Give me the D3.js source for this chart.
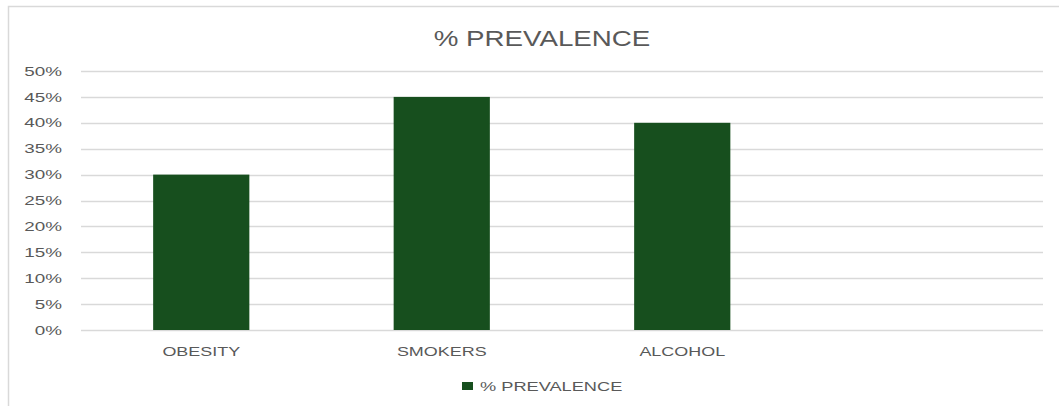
<!DOCTYPE html>
<html>
<head>
<meta charset="utf-8">
<script src="https://cdn.jsdelivr.net/npm/d3@7"></script>
<style>
  html, body { margin: 0; padding: 0; background: #fff; }
  svg { display: block; font-family: "Liberation Sans", Arial, sans-serif; }
</style>
</head>
<body>
<svg id="chart" width="1059" height="406"></svg>
<script>
// Prevalence by risk factor (last slot is an empty category)
const categories = ["OBESITY", "SMOKERS", "ALCOHOL", ""];
const prevalence = [0.30, 0.45, 0.40, null];
const yTicks = [0, 0.05, 0.10, 0.15, 0.20, 0.25, 0.30, 0.35, 0.40, 0.45, 0.50];
const seriesName = "% PREVALENCE";
const chartTitle = "% PREVALENCE";

const W = 1059, H = 406;
const margin = { left: 81, right: 16, top: 71, bottom: 76 };
const barColor = "#174f1e";
const textColor = "#595959";
const gridColor = "#d9d9d9";

const svg = d3.select("#chart");

// widen glyphs horizontally by a factor, keeping the anchor point
function stretch(sel, factor) {
  sel.each(function () {
    const w = this.getComputedTextLength();
    if (w > 0) {
      d3.select(this)
        .attr("textLength", w * factor)
        .attr("lengthAdjust", "spacingAndGlyphs");
    }
  });
}

// chart frame
svg.append("rect")
  .attr("x", 8.5).attr("y", 6.5)
  .attr("width", W + 10).attr("height", H + 10)
  .attr("fill", "#fff").attr("stroke", gridColor).attr("stroke-width", 1.5);

const x = d3.scaleBand()
  .domain(categories)
  .range([margin.left, W - margin.right])
  .paddingInner(0.6)
  .paddingOuter(0.3);

const y = d3.scaleLinear()
  .domain([0, 0.5])
  .range([H - margin.bottom, margin.top]);

// gridlines
svg.append("g")
  .selectAll("line")
  .data(yTicks)
  .join("line")
  .attr("x1", margin.left).attr("x2", W - margin.right)
  .attr("y1", d => Math.round(y(d)) + 0.5).attr("y2", d => Math.round(y(d)) + 0.5)
  .attr("stroke", gridColor).attr("stroke-width", 1.3);

// y axis labels
const yAxis = d3.axisLeft(y)
  .tickValues(yTicks)
  .tickFormat(d3.format(".0%"))
  .tickSize(0)
  .tickPadding(0);
svg.append("g")
  .attr("transform", `translate(${margin.left - 19},0)`)
  .call(yAxis)
  .call(g => g.select(".domain").remove())
  .call(g => g.selectAll("text")
    .attr("fill", textColor)
    .style("font-size", "13px")
    .style("font-family", "'Liberation Sans', Arial, sans-serif")
    .call(stretch, 1.45));

// bars
const data = categories.map((c, i) => ({ c, v: prevalence[i] })).filter(d => d.v != null);
svg.append("g")
  .selectAll("rect")
  .data(data)
  .join("rect")
  .attr("x", d => x(d.c))
  .attr("y", d => y(d.v))
  .attr("width", x.bandwidth())
  .attr("height", d => y(0) - y(d.v))
  .attr("fill", barColor);

// x axis labels
const xAxis = d3.axisBottom(x).tickSize(0).tickPadding(0);
svg.append("g")
  .attr("transform", `translate(0,${H - margin.bottom + 17})`)
  .call(xAxis)
  .call(g => g.select(".domain").remove())
  .call(g => g.selectAll("text")
    .attr("fill", textColor)
    .style("font-size", "13px")
    .style("font-family", "'Liberation Sans', Arial, sans-serif")
    .call(stretch, 1.38));

// title
svg.append("text")
  .attr("x", 542).attr("y", 46)
  .attr("text-anchor", "middle")
  .attr("fill", textColor)
  .style("font-size", "22px")
  .text(chartTitle)
  .call(stretch, 1.26);

// legend
const legend = svg.append("g").attr("transform", "translate(462,382)");
legend.append("rect")
  .attr("width", 11).attr("height", 8)
  .attr("fill", barColor);
legend.append("text")
  .attr("x", 18).attr("y", 9)
  .attr("fill", textColor)
  .style("font-size", "13px")
  .text(seriesName)
  .call(stretch, 1.4);
</script>
</body>
</html>
